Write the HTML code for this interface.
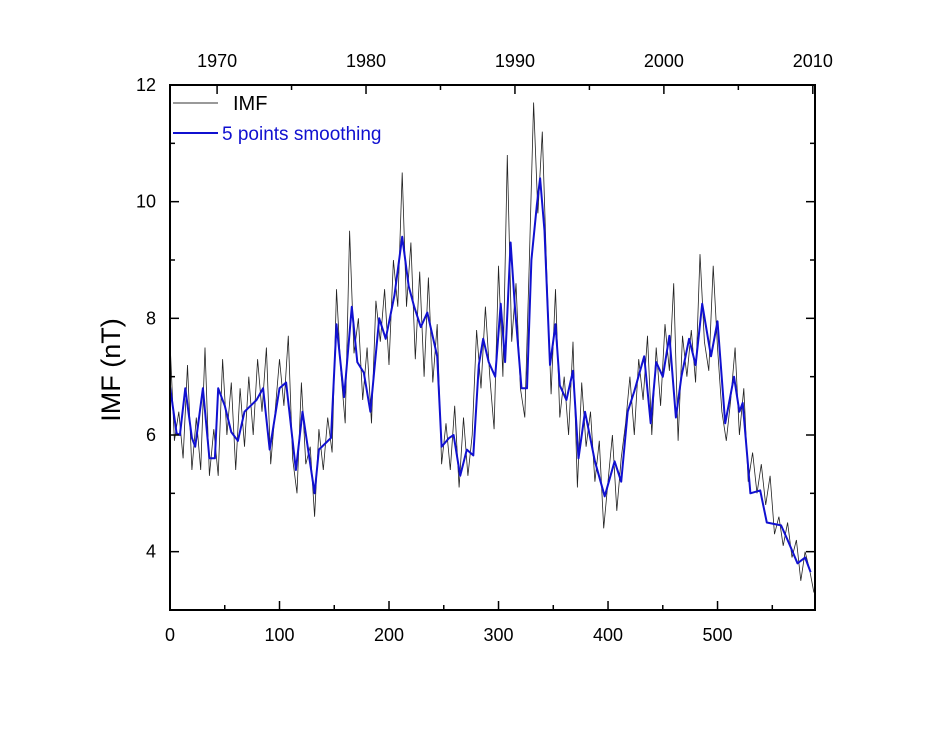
<!DOCTYPE html>
<html><head><meta charset="utf-8"><style>
html,body{margin:0;padding:0;background:#fff;}
svg text{font-family:"Liberation Sans",Arial,sans-serif;}
</style></head><body>
<svg id="chart" width="945" height="730" xmlns="http://www.w3.org/2000/svg">
<g id="plot"></g>
</svg>
<script>
const smoothIdx=[0,6,9,14,20,23,30,36,41,44,50,56,62,68,79,85,91,100,106,115,121,132,136,147,152,159,166,171,177,183,191,197,205,212,218,223,229,235,244,248,255,259,265,271,277,282,286,291,297,302,306,311,315,321,326,330,335,338,342,347,352,356,362,368,373,379,388,397,406,412,418,424,433,439,444,450,456,462,467,474,480,486,494,500,507,515,520,523,530,539,545,558,564,573,580,585];
const smoothVal=[6.83,6.03,6.0,6.8,5.95,5.8,6.8,5.6,5.6,6.8,6.5,6.05,5.9,6.4,6.6,6.8,5.75,6.8,6.9,5.4,6.4,5.0,5.75,5.95,7.9,6.65,8.2,7.25,7.07,6.4,8.0,7.65,8.4,9.4,8.55,8.2,7.85,8.1,7.35,5.8,5.95,6.0,5.3,5.75,5.65,7.2,7.65,7.25,7.0,8.25,7.25,9.3,8.2,6.8,6.8,9.0,9.95,10.4,9.5,7.2,7.9,6.85,6.6,7.1,5.6,6.4,5.55,4.95,5.55,5.2,6.4,6.75,7.35,6.2,7.25,7.0,7.7,6.3,7.0,7.65,7.2,8.25,7.35,7.95,6.2,7.0,6.4,6.55,5.0,5.05,4.5,4.45,4.2,3.8,3.9,3.65];
const rawStep=4;
const rawVal=[7.6,5.9,6.4,5.6,7.2,5.4,6.3,5.4,7.5,5.3,6.1,5.3,7.3,6.0,6.9,5.4,6.8,5.8,7.0,6.0,7.3,6.4,7.5,5.5,6.4,7.3,6.5,7.7,5.6,5.0,6.9,5.5,5.8,4.6,6.1,5.4,6.3,5.7,8.5,7.1,6.2,9.5,7.4,8.0,6.6,7.5,6.2,8.3,7.6,8.5,7.2,9.0,8.2,10.5,8.2,9.3,7.3,8.8,7.0,8.7,6.9,7.9,5.5,6.2,5.4,6.5,5.1,6.3,5.3,6.0,7.8,6.8,8.2,7.0,6.1,8.9,7.0,10.8,7.6,8.6,6.8,6.3,8.9,11.7,9.8,11.2,8.8,6.7,8.5,6.3,7.0,6.0,7.6,5.1,6.9,5.8,6.4,5.2,5.9,4.4,5.2,6.0,4.7,5.6,6.2,7.0,6.0,7.3,6.6,7.7,6.0,7.5,6.5,7.9,7.1,8.6,5.9,7.7,7.0,7.8,6.9,9.1,7.6,7.1,8.9,7.5,6.4,5.9,6.6,7.5,6.0,6.8,5.2,5.7,5.0,5.5,4.8,5.3,4.3,4.6,4.1,4.5,3.9,4.2,3.5,4.0,3.7,3.3];
const xTicks=[0,100,200,300,400,500];
const yTicks=[4,6,8,10,12];
const topYears=[1970,1980,1990,2000,2010];

const L=170,R=815,T=85,B=610,XMAX=589,YMIN=3,YMAX=12;
const sx=v=>L+(v/XMAX)*(R-L);
const sy=v=>B-(v-YMIN)/(YMAX-YMIN)*(B-T);
const yearIdx=y=>43+(y-1970)*13.6;
const NS="http://www.w3.org/2000/svg";
const g=document.getElementById('plot');
function mk(tag,attrs,parent){const e=document.createElementNS(NS,tag);for(const k in attrs)e.setAttribute(k,attrs[k]);(parent||g).appendChild(e);return e;}

let d='';rawVal.forEach((v,i)=>{d+=(i?'L':'M')+sx(Math.min(i*rawStep,XMAX)).toFixed(1)+','+sy(v).toFixed(1);});
const raw=mk('path',{d:d,fill:'none',stroke:'#222','stroke-width':0.8});


d='';smoothVal.forEach((v,i)=>{d+=(i?'L':'M')+sx(smoothIdx[i]).toFixed(1)+','+sy(v).toFixed(1);});
const sm=mk('path',{d:d,fill:'none',stroke:'#1010d0','stroke-width':2,'stroke-linejoin':'round'});



const fr=mk('rect',{x:L,y:T,width:R-L,height:B-T,fill:'none',stroke:'#000','stroke-width':2});



for(let v=0;v<=XMAX;v+=50){const major=v%100===0;const len=major?9:5;
 mk('line',{x1:sx(v),x2:sx(v),y1:B,y2:B-len,stroke:'#000','stroke-width':1.5});}
xTicks.forEach(v=>{const t=mk('text',{x:sx(v),y:B+31,'font-size':18,'text-anchor':'middle'});t.textContent=v;
 
 });
for(let v=YMIN;v<=YMAX;v+=1){const major=v%2===0;const len=major?9:5;
 mk('line',{x1:L,x2:L+len,y1:sy(v),y2:sy(v),stroke:'#000','stroke-width':1.5});
 mk('line',{x1:R,x2:R-len,y1:sy(v),y2:sy(v),stroke:'#000','stroke-width':1.5});}
yTicks.forEach(v=>{const t=mk('text',{x:L-14,y:sy(v)+6,'font-size':18,'text-anchor':'end'});t.textContent=v;
 
 });
for(let y=1970;y<=2010;y+=5){const major=y%10===0;
 mk('line',{x1:sx(yearIdx(y)),x2:sx(yearIdx(y)),y1:T,y2:T+(major?9:5),stroke:'#000','stroke-width':1.5});}
topYears.forEach(y=>{const t=mk('text',{x:sx(yearIdx(y)),y:T-18,'font-size':18,'text-anchor':'middle'});t.textContent=y;
 
 });
const yt=mk('text',{x:0,y:0,'font-size':27,'text-anchor':'middle',transform:'translate(120,370) rotate(-90)'});yt.textContent='IMF (nT)';


const lg=mk('g',{});


mk('line',{x1:173,x2:218,y1:103,y2:103,stroke:'#333','stroke-width':1},lg);
const l1=mk('text',{x:233,y:110,'font-size':20},lg);l1.textContent='IMF';


mk('line',{x1:173,x2:218,y1:133,y2:133,stroke:'#1010d0','stroke-width':2},lg);
const l2=mk('text',{x:222,y:140,'font-size':19,fill:'#1010d0'},lg);l2.textContent='5 points smoothing';


</script>
</body></html>
